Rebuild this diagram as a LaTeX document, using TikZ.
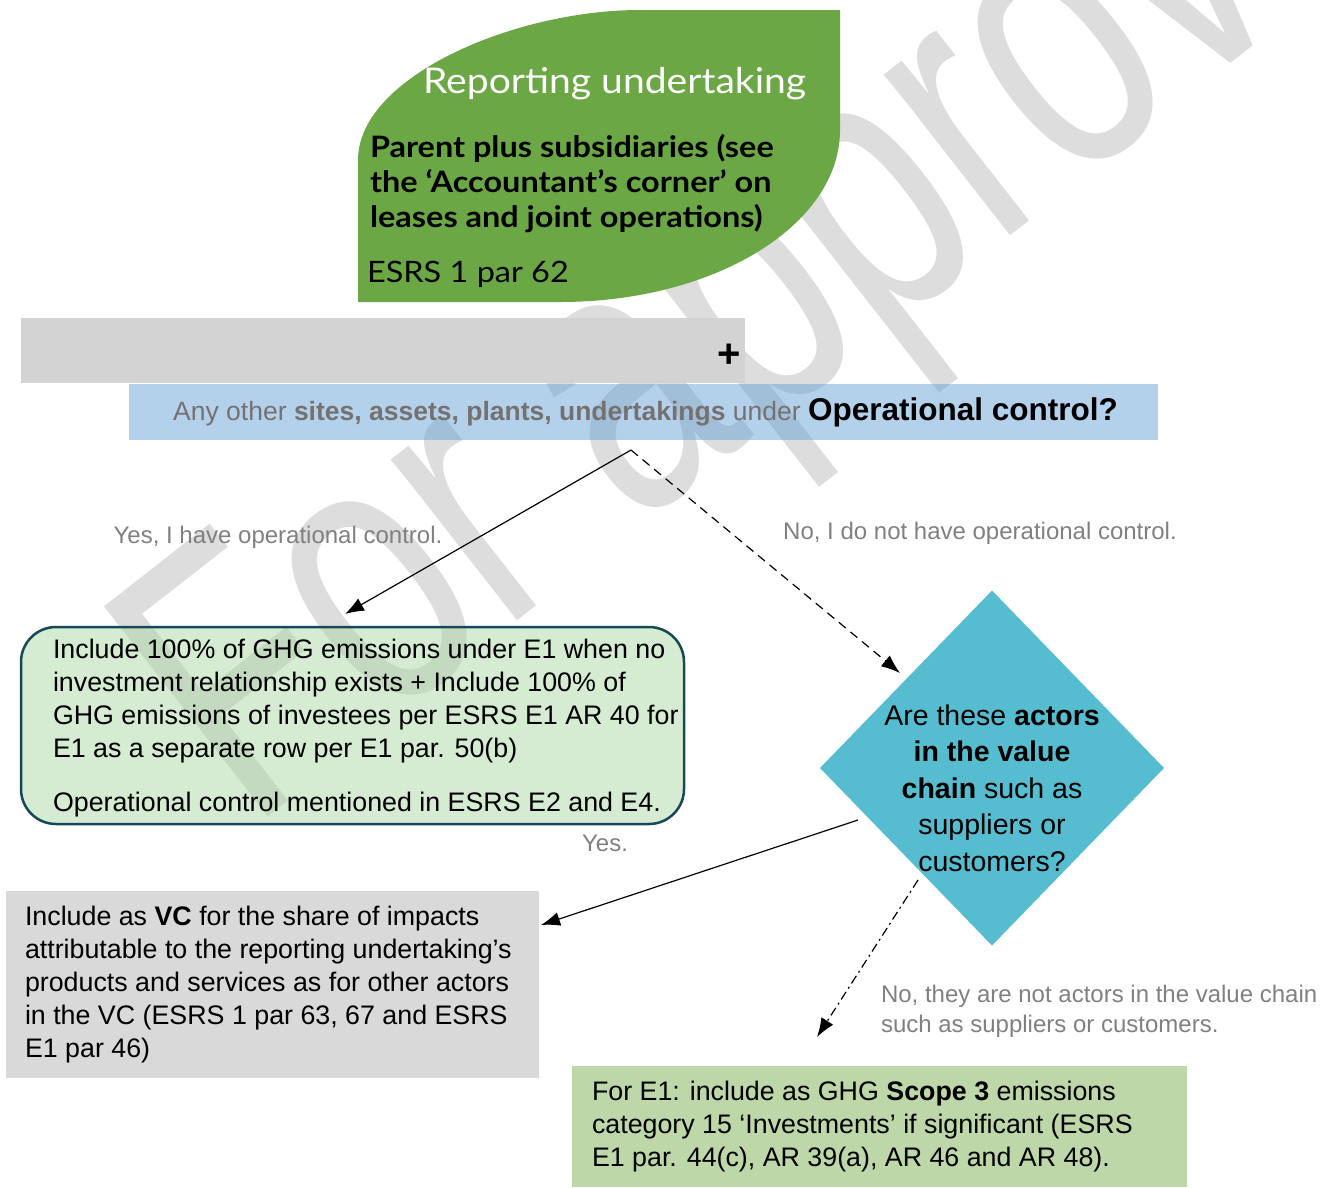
\documentclass[tikz,border=0pt]{standalone}
\usepackage{fontspec}
\setmainfont{Liberation Sans}
\newfontfamily\leaffont{Lato}[FakeStretch=1.1]
\usetikzlibrary{shapes.geometric,arrows.meta,calc}

\definecolor{leafgreen}{RGB}{107,167,69}
\definecolor{greybar}{RGB}{211,211,211}
\definecolor{bluebar}{RGB}{105,163,217}
\definecolor{mintbox}{RGB}{171,217,165}
\definecolor{tealline}{RGB}{22,72,88}
\definecolor{diamondblue}{RGB}{86,189,208}
\definecolor{vcgrey}{RGB}{217,217,217}
\definecolor{scopegreen}{RGB}{190,215,168}
\definecolor{notegrey}{RGB}{128,128,128}
\definecolor{textgrey}{RGB}{118,113,113}
\definecolor{markgrey}{RGB}{221,221,221}

\begin{document}
\begin{tikzpicture}[x=1pt, y=-1pt,
    every node/.style={inner sep=0pt, outer sep=0pt},
    boxtext/.style={font=\fontsize{26.8}{33}\selectfont, align=left, anchor=north west},
    note/.style={text=notegrey, font=\fontsize{24}{30}\selectfont, align=left},
    flow/.style={-{Latex[length=19pt,width=14pt]}, line width=1.2pt, draw}
]
\useasboundingbox (0,0) rectangle (1335,1187);

% watermark, behind everything
\node[rotate=38, xscale=0.71, anchor=base west, text=markgrey,
    font=\fontsize{387}{387}\selectfont] (wm) at (250,830) {For approval};

% reporting undertaking leaf
\path[fill=leafgreen] (358,302) -- (358,160) .. controls (358,77) and (514,10) .. (640,10)
    -- (840,10) -- (840,130) .. controls (840,225) and (715,302) .. (560,302) -- cycle;
\node[text=white, font=\leaffont\fontsize{35.5}{40}\selectfont, anchor=base west] (ru) at (423,93) {Reporting undertaking};
\node[font=\leaffont\bfseries\fontsize{29.5}{35}\selectfont, align=left, anchor=north west] (parent) at (370,134)
    {Parent plus subsidiaries (see\\the ‘Accountant’s corner’ on\\leases and joint operations)};
\node[font=\leaffont\fontsize{29.5}{30}\selectfont, anchor=base west] (par62) at (367,282) {ESRS 1 par 62};

% plus bar and question bar
\node[fill=greybar, minimum width=724pt, minimum height=65pt, anchor=north west] (gbar) at (21,318) {};
\node[font=\bfseries\fontsize{40}{40}\selectfont] (plus) at (729,356) {+};
\node[fill=bluebar, fill opacity=0.5, minimum width=1029pt, minimum height=56pt, anchor=north west] (opc) at (129,384) {};
\node (opctext) at ($(opc.center)+(2,0)$) {{\color{textgrey}\fontsize{26.5}{30}\selectfont Any other
    \textbf{sites, assets, plants, undertakings} under\ }{\bfseries\fontsize{31.5}{34}\selectfont Operational control?}};

% outcome boxes
\node[fill=mintbox, fill opacity=0.5, draw=tealline, line width=2.5pt, rounded corners=35pt,
    minimum width=663pt, minimum height=197pt, anchor=north west] (opbox) at (21,627) {};
\node[boxtext] (optext) at (53,639) {Include 100\% of GHG emissions under E1 when no\\
    investment relationship exists + Include 100\% of\\
    GHG emissions of investees per ESRS E1 AR 40 for\\
    E1 as a separate row per E1 par. 50(b)\\[21pt]
    Operational control mentioned in ESRS E2 and E4.};

\node[fill=diamondblue, diamond, minimum width=344pt, minimum height=355pt] (vc) at (992,768) {};
\node[font=\fontsize{28.5}{36.5}\selectfont, align=center] (vctext) at (992,788)
    {Are these \textbf{actors}\\\textbf{in the value}\\\textbf{chain} such as\\suppliers or\\customers?};

\node[fill=vcgrey, minimum width=533pt, minimum height=187pt, anchor=north west] (vcbox) at (6,891) {};
\node[boxtext] (vcboxtext) at (25,906) {Include as \textbf{VC} for the share of impacts\\
    attributable to the reporting undertaking’s\\
    products and services as for other actors\\
    in the VC (ESRS 1 par 63, 67 and ESRS\\
    E1 par 46)};

\node[fill=scopegreen, minimum width=615pt, minimum height=121pt, anchor=north west] (s3box) at (572,1066) {};
\node[boxtext] (s3text) at (592,1081) {For E1: include as GHG \textbf{Scope 3} emissions\\
    category 15 ‘Investments’ if significant (ESRS\\
    E1 par. 44(c), AR 39(a), AR 46 and AR 48).};

% answers
\node[note] (yesop) at (278,537) {Yes, I have operational control.};
\node[note] (noop) at (980,533) {No, I do not have operational control.};
\node[note] (yesvc) at (605,843) {Yes.};
\node[note, anchor=west] (novc) at (881,1011) {No, they are not actors in the value chain\\such as suppliers or customers.};

% connectors
\coordinate (fork) at (631,450);
\coordinate (optip) at (345,614);
\coordinate (vctip) at (900,673);
\coordinate (yesstart) at (858,820);
\coordinate (yestip) at (541,925);
\coordinate (nostart) at (918,880);
\coordinate (notip) at (817,1037);
\draw[flow] (fork) -- (optip);
\draw[flow, dash pattern=on 9pt off 6pt] (fork) -- (vctip);
\draw[flow] (yesstart) -- (yestip);
\draw[flow, dash pattern=on 9pt off 4pt on 2pt off 4pt] (nostart) -- (notip);
\end{tikzpicture}
\end{document}
